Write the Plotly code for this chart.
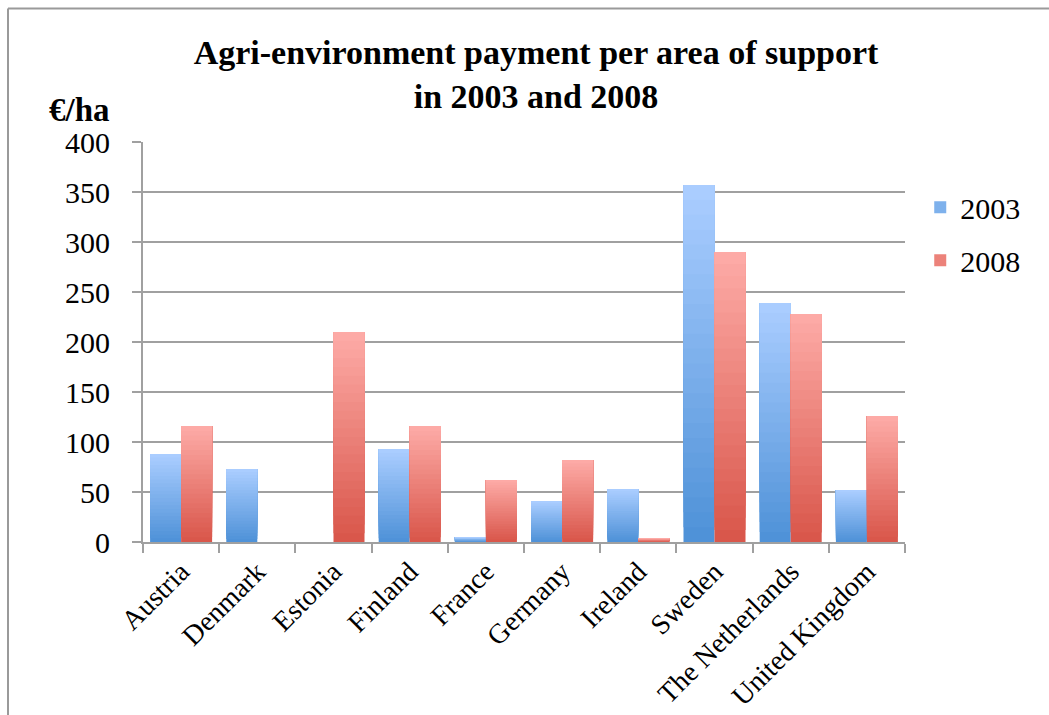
import plotly.graph_objects as go

countries = ["Austria", "Denmark", "Estonia", "Finland", "France", "Germany",
             "Ireland", "Sweden", "The Netherlands", "United Kingdom"]
values_2003 = [88, 73, 0, 93, 5, 41, 53, 357, 239, 52]
values_2008 = [116, 0, 210, 116, 62, 82, 4, 290, 228, 126]
y_ticks = [0, 50, 100, 150, 200, 250, 300, 350, 400]

FONT = "Liberation Serif"
N_SEG = 24


def blend(c1, c2, t):
    a = [int(c1[i:i + 2], 16) for i in (1, 3, 5)]
    b = [int(c2[i:i + 2], 16) for i in (1, 3, 5)]
    return "rgb(%d,%d,%d)" % tuple(round(a[j] + (b[j] - a[j]) * t) for j in range(3))


series = [
    ("2003", values_2003, "#4f92d8", "#aacdff", -0.407),
    ("2008", values_2008, "#d9574b", "#fdaaa6", 0.0),
]

fig = go.Figure()
for name, vals, c_bot, c_top, off in series:
    # layered gradient: each layer spans from a fraction of the value up to the value
    for k in range(N_SEG):
        t = k / (N_SEG - 1)
        fig.add_trace(go.Bar(
            x=countries,
            y=[v * (N_SEG - k) / N_SEG for v in vals],
            base=[v * k / N_SEG for v in vals],
            offset=off, width=0.407,
            marker=dict(color=blend(c_bot, c_top, t), line=dict(width=0)),
            name=name, legendgroup=name,
            showlegend=(k == N_SEG // 2),
            hovertemplate="%{x}<br>" + name + ": %{customdata}<extra></extra>",
            customdata=vals,
        ))

axis_col = "#a0a0a0"
fig.update_layout(
    width=1049, height=715,
    barmode="overlay",
    plot_bgcolor="white", paper_bgcolor="white",
    margin=dict(l=143, r=144, t=142, b=173, pad=0, autoexpand=False),
    font=dict(family=FONT, size=30, color="black"),
    title=dict(
        text="<b>Agri-environment payment per area of support<br>in 2003 and 2008</b>",
        x=0.511, xanchor="center", y=1 - 64 / 715, yanchor="top",
        font=dict(family=FONT, size=34, color="black"),
    ),
    legend=dict(x=1.02, xanchor="left", y=0.902, yanchor="top",
                font=dict(size=30), traceorder="grouped", tracegroupgap=11,
                bgcolor="rgba(0,0,0,0)"),
    showlegend=True,
    xaxis=dict(
        categoryorder="array", categoryarray=countries,
        showline=True, linecolor=axis_col, linewidth=2,
        ticks="outside", tickson="boundaries", ticklen=9, tickwidth=2, tickcolor=axis_col,
        tickangle=-45, tickfont=dict(size=28), automargin=False,
        showgrid=False, range=[-0.5, 9.5],
    ),
    yaxis=dict(
        range=[0, 400], tickvals=y_ticks,
        showline=True, linecolor=axis_col, linewidth=2,
        ticks="outside", ticklen=9, tickwidth=2, tickcolor=axis_col,
        ticklabelstandoff=16, automargin=False,
        showgrid=True, gridcolor=axis_col, gridwidth=2,
        zeroline=False, tickfont=dict(size=30),
    ),
    annotations=[dict(
        text="<b>€/ha</b>", x=-0.083, y=1.079, xref="paper", yref="paper",
        xanchor="center", yanchor="middle", showarrow=False,
        font=dict(family=FONT, size=33, color="black"),
    )],
    shapes=[
        dict(type="line", xref="paper", yref="paper",
             x0=(8 - 143) / 762, x1=(8 - 143) / 762,
             y0=(541.5 - 8) / 400, y1=(541.5 - 720) / 400,
             line=dict(color="#9a9a9a", width=2)),
        dict(type="line", xref="paper", yref="paper",
             x0=(8 - 143) / 762, x1=(1052 - 143) / 762,
             y0=(541.5 - 8) / 400, y1=(541.5 - 8) / 400,
             line=dict(color="#9a9a9a", width=2)),
    ],
)

fig.write_html("out.html")
